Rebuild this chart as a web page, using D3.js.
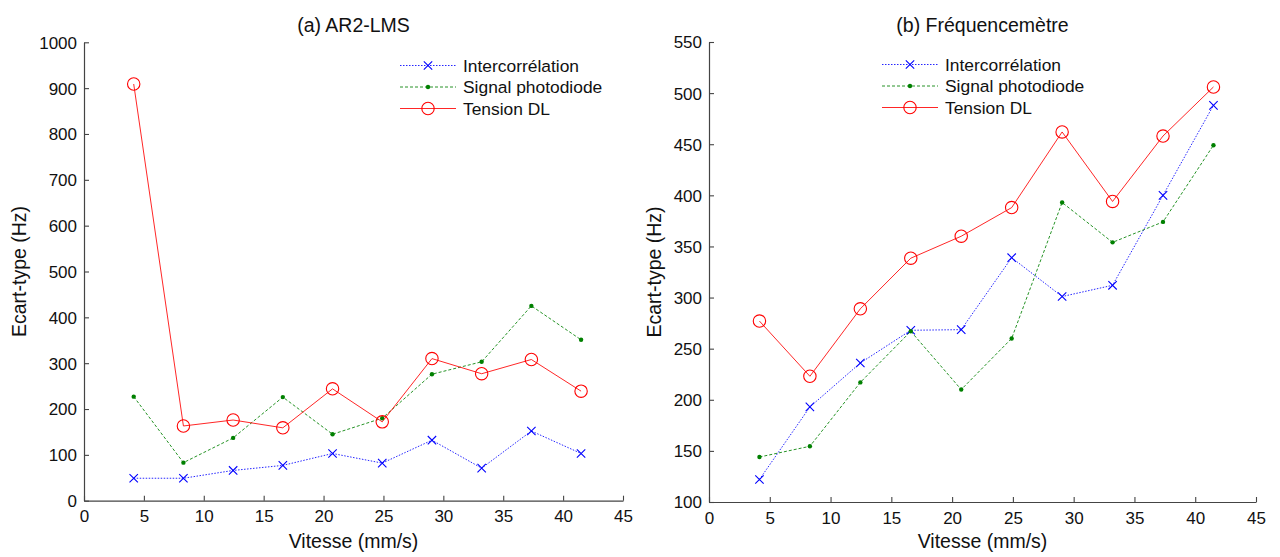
<!DOCTYPE html>
<html><head><meta charset="utf-8">
<script src="https://cdn.jsdelivr.net/npm/d3@7"></script>
<style>body{margin:0;background:#fff;} text{font-family:"Liberation Sans",Arial,sans-serif;fill:#111;}</style>
</head><body>
<svg id="c" width="1280" height="557"></svg>
<script>
const vitesse = [4.15, 8.3, 12.45, 16.6, 20.75, 24.9, 29.05, 33.2, 37.35, 41.5];
const seriesNames = ["Intercorrélation", "Signal photodiode", "Tension DL"];
// (a) AR2-LMS
const arInter = [49, 49, 66, 77, 103, 82, 132, 71, 152, 103];
const arSignal = [227, 83, 137, 226, 145, 180, 276, 303, 425, 351];
const arTension = [909, 163, 176, 159, 244, 172, 310, 277, 308, 239];
// (b) Fréquencemètre
const frInter = [122, 193, 236, 268, 268.6, 339, 301, 312, 400, 488];
const frSignal = [144, 154.5, 217, 267, 210, 260, 393, 354, 374, 449];
const frTension = [277, 223, 289, 338.5, 360, 388, 462, 394, 458, 506];
const xTicks = [0,5,10,15,20,25,30,35,40,45];
const arYTicks = [0,100,200,300,400,500,600,700,800,900,1000];
const frYTicks = [100,150,200,250,300,350,400,450,500,550];

const svg = d3.select("#c");
const styles = [
  {color:"#0000ff", dash:"1.5,1.5", marker:"x"},
  {color:"#008000", dash:"3,2", marker:"dot"},
  {color:"#ff0000", dash:null, marker:"o"}
];

function drawMarker(g, type, x, y, color){
  if(type==="x"){
    const s=4.2;
    g.append("path").attr("d",`M${x-s},${y-s}L${x+s},${y+s}M${x-s},${y+s}L${x+s},${y-s}`)
      .attr("stroke",color).attr("stroke-width",1.1).attr("fill","none");
  } else if(type==="dot"){
    g.append("circle").attr("cx",x).attr("cy",y).attr("r",2.2).attr("fill",color);
  } else {
    g.append("circle").attr("cx",x).attr("cy",y).attr("r",6.2).attr("fill","none")
      .attr("stroke",color).attr("stroke-width",1.1);
  }
}

function panel(opt){
  const x = d3.scaleLinear().domain([0,45]).range([opt.x0, opt.x1]);
  const y = d3.scaleLinear().domain(opt.yDomain).range([opt.yb, opt.yt]);
  const g = svg.append("g");
  const ax = g.append("g").attr("transform",`translate(0,${opt.yb})`)
    .call(d3.axisBottom(x).tickValues(xTicks).tickFormat(d3.format("d")).tickSizeInner(-5).tickSizeOuter(0).tickPadding(9.5));
  const ay = g.append("g").attr("transform",`translate(${opt.x0},0)`)
    .call(d3.axisLeft(y).tickValues(opt.yTicks).tickFormat(d3.format("d")).tickSizeInner(-5).tickSizeOuter(0).tickPadding(7));
  [ax,ay].forEach(a=>{
    a.select(".domain").attr("stroke","#444").attr("stroke-width",1.2);
    a.selectAll(".tick line").attr("stroke","#444").attr("stroke-width",1.1);
    a.selectAll(".tick text").style("font-size","17px").style("font-family","Liberation Sans, Arial, sans-serif").attr("fill","#111");
  });
  ay.selectAll(".tick text").attr("dy","0.35em");
  opt.data.forEach((vals,i)=>{
    const st = styles[i];
    const line = d3.line().x((d,j)=>x(vitesse[j])).y(d=>y(d));
    const p = g.append("path").datum(vals).attr("d",line).attr("fill","none")
      .attr("stroke",st.color).attr("stroke-width",1).attr("stroke-opacity",0.85);
    if(st.dash) p.attr("stroke-dasharray",st.dash);
    vals.forEach((v,j)=>drawMarker(g, st.marker, x(vitesse[j]), y(v), st.color));
  });
  seriesNames.forEach((n,i)=>{
    const st = styles[i];
    const ly = opt.legY + i*21.5;
    const l = g.append("line").attr("x1",opt.legX).attr("x2",opt.legX+56).attr("y1",ly).attr("y2",ly)
      .attr("stroke",st.color).attr("stroke-width",1).attr("stroke-opacity",0.85);
    if(st.dash) l.attr("stroke-dasharray",st.dash);
    drawMarker(g, st.marker, opt.legX+28, ly, st.color);
    g.append("text").attr("x",opt.legX+63).attr("y",ly).attr("dy","0.35em")
      .style("font-size","17.4px").text(n);
  });
  g.append("text").attr("x",(opt.x0+opt.x1)/2).attr("y",31.5).attr("text-anchor","middle")
    .style("font-size","19.5px").text(opt.title);
  g.append("text").attr("x",(opt.x0+opt.x1)/2).attr("y",547.5).attr("text-anchor","middle")
    .style("font-size","19.5px").text("Vitesse (mm/s)");
  g.append("text").attr("transform",`translate(${opt.ylabX},${(opt.yb+opt.yt)/2}) rotate(-90)`)
    .attr("text-anchor","middle").style("font-size","19.5px").text("Ecart-type (Hz)");
}

panel({x0:84, x1:623, yt:42.3, yb:500.7, yDomain:[0,1000], yTicks:arYTicks,
  data:[arInter, arSignal, arTension], legX:400, legY:65.5, title:"(a) AR2-LMS", ylabX:26});
panel({x0:709, x1:1256, yt:42, yb:502, yDomain:[100,550], yTicks:frYTicks,
  data:[frInter, frSignal, frTension], legX:882, legY:64.5, title:"(b) Fréquencemètre", ylabX:661});
</script>
</body></html>
